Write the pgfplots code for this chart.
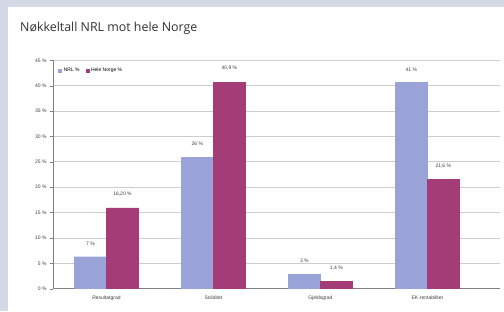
\documentclass[border=0pt]{standalone}
\usepackage{pgfplots}
\pgfplotsset{compat=1.18}
\usepackage{fontspec}
\setmainfont{Liberation Sans}
\newfontfamily\titlefont{Open Sans}
\definecolor{bgframe}{RGB}{212,215,228}
\definecolor{nrl}{RGB}{153,163,216}
\definecolor{hn}{RGB}{164,60,120}
\definecolor{gridc}{RGB}{205,205,205}
\begin{document}
\begin{tikzpicture}[x=1pt,y=1pt]
\fill[bgframe] (0,0) rectangle (504,311);
\fill[white] (8,0) rectangle (504,304);
\node[anchor=west, inner sep=0pt, font=\titlefont\fontsize{12.4}{14}\selectfont, text=black!80] at (20,283) {Nøkkeltall NRL mot hele Norge};
\begin{axis}[
  at={(53pt,22.3pt)}, anchor=south west,
  scale only axis, width=447pt, height=228.4pt,
  clip=false,
  xmin=-0.5, xmax=3.68, ymin=0, ymax=45,
  ybar=0pt, bar width=32pt,
  xtick={0,1,2,3},
  xticklabels={Resultatgrad,Soliditet,Gjeldsgrad,EK-rentabilitet},
  extra x ticks={0.5,1.5,2.5},
  extra x tick labels={},
  extra x tick style={major tick length=3pt, tick style={draw=gray}},
  x tick style={draw=none},
  ytick={0,5,...,45},
  yticklabels={0 \%,5 \%,10 \%,15 \%,20 \%,25 \%,30 \%,35 \%,40 \%,45 \%},
  y tick style={draw=gray},
  major tick length=3pt,
  tick align=outside,
  ymajorgrids, grid style={gridc, line width=0.8pt},
  axis x line*=bottom, axis y line*=left,
  axis line style={gray},
  tick label style={font=\fontsize{5}{6}\selectfont, text=black!75},
  xticklabel style={yshift=-1pt},
  nodes near coords,
  point meta=explicit symbolic,
  every node near coord/.append style={font=\fontsize{5}{6}\selectfont, text=black!75, yshift=8pt},
  legend style={at={(0.005,0.985)}, anchor=north west, draw=none, fill=none,
    font=\fontsize{5}{6}\selectfont, legend columns=2,
    /tikz/every even column/.append style={column sep=4pt}},
  legend image code/.code={\fill[#1] (0pt,-1.5pt) rectangle (3pt,1.5pt);},
]
\addplot[fill=nrl, draw=nrl] coordinates {(0,6.3)[7 \%] (1,25.9)[26 \%] (2,2.8)[3 \%] (3,40.6)[41 \%]};
\addplot[fill=hn, draw=hn] coordinates {(0,15.9)[16,20 \%] (1,40.7)[40,9 \%] (2,1.4)[1,4 \%] (3,21.5)[21,6 \%]};
\legend{NRL \%, Hele Norge \%}
\end{axis}
\pgfresetboundingbox
\path (0,0) rectangle (504,311);
\end{tikzpicture}
\end{document}
